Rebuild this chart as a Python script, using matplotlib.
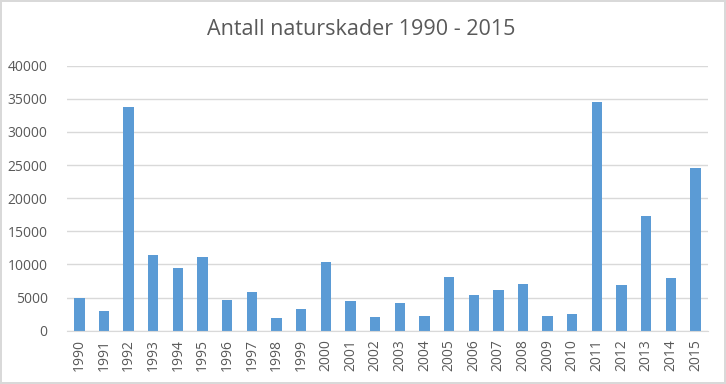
import matplotlib.pyplot as plt
import numpy as np

# Data
years = [str(y) for y in range(1990, 2016)]
skader = [4900, 3000, 33700, 11500, 9500, 11100, 4700, 5900, 1850, 3200,
          10300, 4450, 2000, 4200, 2250, 8100, 5450, 6100, 7100, 2250,
          2450, 34500, 6900, 17250, 7900, 24600]
yticks = [0, 5000, 10000, 15000, 20000, 25000, 30000, 35000, 40000]

plt.rcParams['font.family'] = ['Open Sans', 'DejaVu Sans']

fig = plt.figure(figsize=(7.26, 3.84), dpi=100)
fig.patch.set_edgecolor('#d9d9d9')
fig.patch.set_linewidth(1.5)
ax = fig.add_axes([0.0923, 0.1388, 0.8827, 0.6902])

x = np.arange(len(years))
ax.bar(x, skader, width=0.42, color='#5b9bd5', zorder=3)

ax.set_xlim(-0.5, len(years) - 0.5)
ax.set_ylim(0, 40000)
ax.set_yticks(yticks)
ax.set_yticklabels([str(t) for t in yticks])
ax.set_xticks(x)
ax.set_xticklabels(years, rotation=90)
ax.tick_params(axis='y', length=0, pad=14, labelsize=10, labelcolor='#595959')
ax.tick_params(axis='x', length=0, pad=6, labelsize=10, labelcolor='#595959')

ax.grid(axis='y', color='#d9d9d9', linewidth=1, zorder=0)
for s in ['top', 'right', 'left']:
    ax.spines[s].set_visible(False)
ax.spines['bottom'].set_color('#d9d9d9')
ax.spines['bottom'].set_zorder(4)

fig.text(0.497, 0.922, 'Antall naturskader 1990 - 2015', ha='center', va='center',
         fontsize=15.5, color='#595959')

fig.savefig('out.png', dpi=100)
